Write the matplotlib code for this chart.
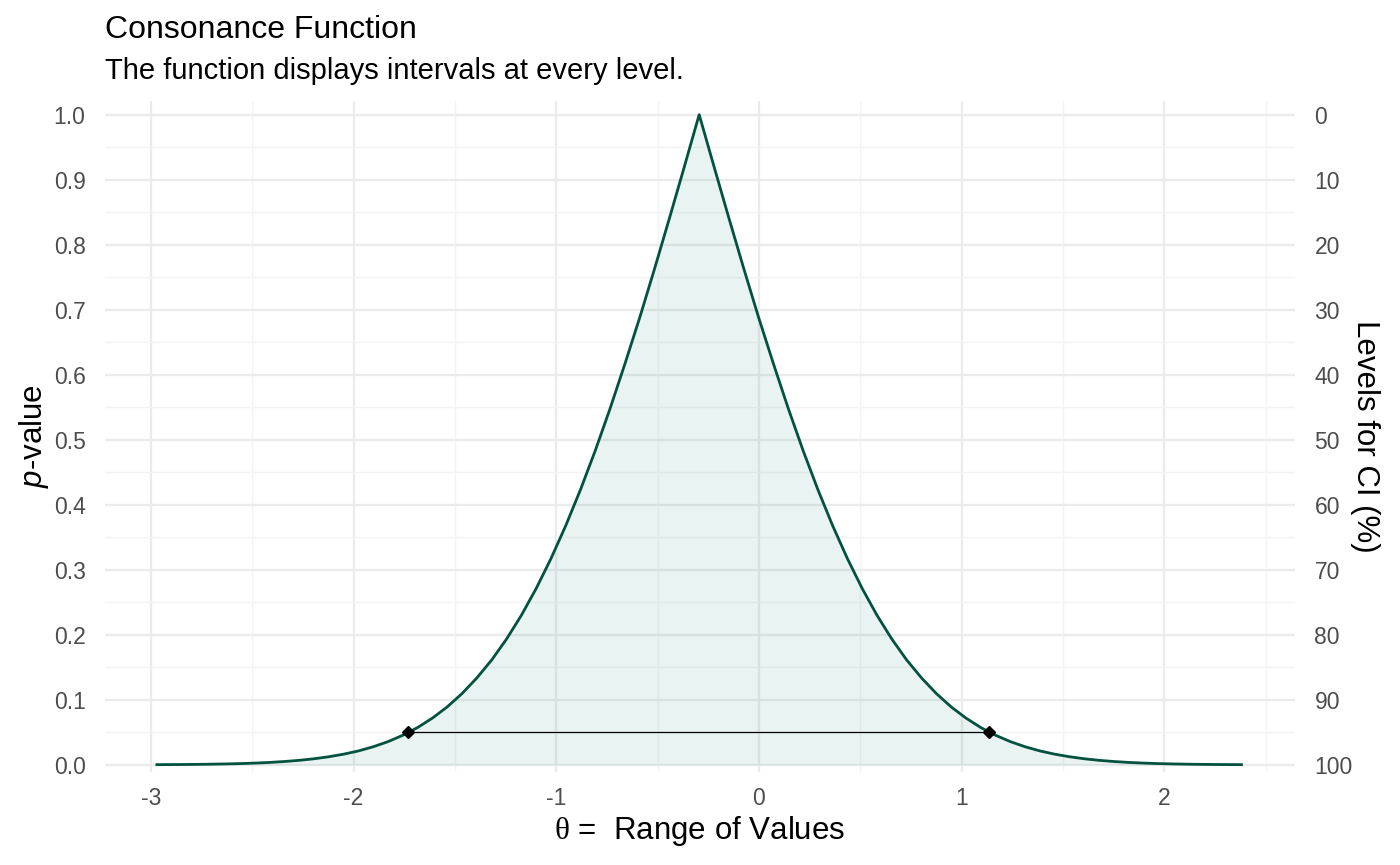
import matplotlib.pyplot as plt
from matplotlib.ticker import MultipleLocator, FixedLocator

plt.rcParams['font.family'] = ['Liberation Sans', 'DejaVu Sans']
plt.rcParams['mathtext.fontset'] = 'custom'
plt.rcParams['mathtext.it'] = 'Liberation Sans:italic'
plt.rcParams['mathtext.rm'] = 'Liberation Serif'

# значення
theta = [-2.970, -2.854, -2.780, -2.707, -2.634, -2.561, -2.488, -2.415, -2.342,
         -2.269, -2.196, -2.123, -2.049, -1.976, -1.903, -1.830, -1.757,
         -1.684, -1.611, -1.538, -1.465, -1.392, -1.318, -1.245, -1.172, -1.099,
         -1.026, -0.953, -0.880, -0.807, -0.734, -0.661, -0.587, -0.514, -0.441,
         -0.368, -0.295, -0.222, -0.149, -0.076, -0.003, 0.071, 0.144, 0.217,
         0.290, 0.363, 0.436, 0.509, 0.582, 0.655, 0.728, 0.802, 0.875, 0.948,
         1.021, 1.094, 1.167, 1.240, 1.313, 1.386, 1.459, 1.533, 1.606, 1.679,
         1.752, 1.825, 1.898, 1.971, 2.044, 2.117, 2.190, 2.264, 2.380]
pvals = [0.0003, 0.0005, 0.0007, 0.0010, 0.0014, 0.0019, 0.0027, 0.0037, 0.0051,
         0.0069, 0.0093, 0.0124, 0.0164, 0.0214, 0.0278, 0.0357, 0.0455,
         0.0574, 0.0719, 0.0891, 0.1096, 0.1336, 0.1615, 0.1936, 0.2301, 0.2713,
         0.3173, 0.3681, 0.4237, 0.4839, 0.5485, 0.6171, 0.6892, 0.7642, 0.8415,
         0.9203, 1.0, 0.9203, 0.8415, 0.7642, 0.6892, 0.6171, 0.5485, 0.4839,
         0.4237, 0.3681, 0.3173, 0.2713, 0.2301, 0.1936, 0.1615, 0.1336, 0.1096,
         0.0891, 0.0719, 0.0574, 0.0455, 0.0357, 0.0278, 0.0214, 0.0164, 0.0124,
         0.0093, 0.0069, 0.0051, 0.0037, 0.0027, 0.0019, 0.0014, 0.0010, 0.0007,
         0.0005, 0.0003]
ci_bounds = [-1.729, 1.136]
ci_level = 0.05

x_ticks = [-3, -2, -1, 0, 1, 2]
y_ticks = [0.0, 0.1, 0.2, 0.3, 0.4, 0.5, 0.6, 0.7, 0.8, 0.9, 1.0]
ci_ticks = [0, 10, 20, 30, 40, 50, 60, 70, 80, 90, 100]

line_col = '#03513f'
grid_col = '#ebebeb'
tick_col = '#4d4d4d'

fig = plt.figure(figsize=(14, 8.65), dpi=100)
ax = fig.add_axes([105 / 1400, 93 / 865, 1190 / 1400, 671 / 865])

ax.fill_between(theta, pvals, 0, color='#218f83', alpha=0.1, lw=0, zorder=2)
ax.plot(theta, pvals, color=line_col, lw=2.0, zorder=3, solid_joinstyle='round')
ax.plot(ci_bounds, [ci_level, ci_level], color='black', lw=0.9, zorder=4)
ax.plot(ci_bounds, [ci_level, ci_level], ls='none', marker='D', ms=6,
        color='black', zorder=5)

ax.set_xlim(-3.226, 2.644)
ax.set_ylim(-0.011, 1.021)

ax.xaxis.set_major_locator(FixedLocator(x_ticks))
ax.xaxis.set_minor_locator(MultipleLocator(0.5))
ax.yaxis.set_major_locator(FixedLocator(y_ticks))
ax.yaxis.set_minor_locator(MultipleLocator(0.05))
ax.set_xticklabels([str(t) for t in x_ticks])
ax.set_yticklabels([f"{t:.1f}" for t in y_ticks])

ax.grid(True, which='major', color=grid_col, lw=1.6, zorder=0)
ax.grid(True, which='minor', color='#f3f3f3', lw=1.0, zorder=0)
ax.set_axisbelow(True)
for s in ax.spines.values():
    s.set_visible(False)
ax.tick_params(which='both', length=0)
ax.tick_params(axis='both', labelsize=16.5, labelcolor=tick_col)
ax.tick_params(axis='x', pad=11)
ax.tick_params(axis='y', pad=14)

ax.set_xlabel(r"$\mathrm{\theta}$ =  Range of Values", fontsize=22.5, labelpad=3)
ax.set_ylabel(r"$p$-value", fontsize=22.5, labelpad=2)

sec = ax.secondary_yaxis('right', functions=(lambda p: 100 * (1 - p),
                                             lambda c: 1 - c / 100))
sec.set_yticks(ci_ticks)
sec.set_yticklabels([str(v) for v in ci_ticks])
sec.tick_params(length=0, labelsize=16.5, labelcolor=tick_col, pad=14)
for s in sec.spines.values():
    s.set_visible(False)
sec.set_ylabel("Levels for CI (%)", fontsize=22.5, rotation=-90, labelpad=20)

fig.text(105 / 1400, 1 - 38 / 865, "Consonance Function", fontsize=23,
         ha='left', va='baseline')
fig.text(105 / 1400, 1 - 79 / 865, "The function displays intervals at every level.",
         fontsize=21, ha='left', va='baseline')

fig.savefig('out.png', dpi=100)
